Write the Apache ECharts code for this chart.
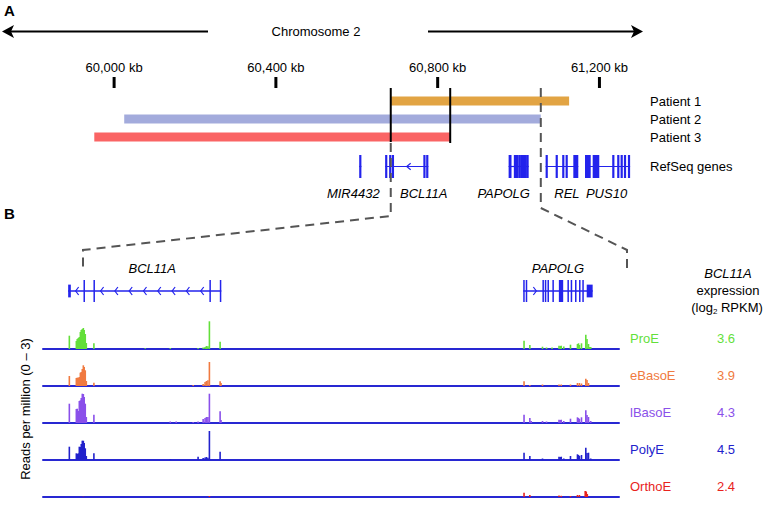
<!DOCTYPE html>
<html><head><meta charset="utf-8">
<script src="https://cdn.jsdelivr.net/npm/echarts@6/dist/echarts.min.js"></script>
<style>html,body{margin:0;padding:0;background:#fff}#c{width:770px;height:506px}</style>
</head><body><div id="c"></div>
<script>
// ---------------- data ----------------
const tickKb = [60000, 60400, 60800, 61200];
const tickLabels = ['60,000 kb', '60,400 kb', '60,800 kb', '61,200 kb'];

const patients = ['Patient 1', 'Patient 2', 'Patient 3'];
const patientStartKb = [60684, 60025, 59951];
const patientEndKb = [61125, 61055, 60831];

const breakpointKb = [60684, 60831];
const zoomWindowKb = [60684, 61055];

const geneNames = ['MIR4432', 'BCL11A', 'PAPOLG', 'REL', 'PUS10'];
const geneStrand = ['+', '-', '+', '+', '-'];
const geneExonsKb = [
  [[60608.3, 60609.1]],
  [[60671.9, 60673.7, 'u'], [60682.3, 60683.1], [60689.0, 60689.8], [60766.9, 60767.7], [60773.8, 60774.8]],
  [[60977.8, 60978.5], [60979.5, 60980.2], [60990.7, 60991.4], [60992.3, 60993.0], [60994.1, 60994.8],
   [60997.4, 60998.1], [61001.6, 61004.5], [61007.5, 61008.2], [61009.7, 61010.4], [61012.6, 61013.3],
   [61015.3, 61016.0], [61017.5, 61018.2], [61020.3, 61024.3, 'u']],
  [[61069.2, 61070.0], [61093.8, 61095.0], [61110.0, 61111.2], [61118.4, 61119.6], [61135.4, 61147.7]],
  [[61164.3, 61178.4], [61183.3, 61199.6], [61233.7, 61234.9], [61246.0, 61247.2], [61254.4, 61255.6], [61262.6, 61263.8], [61272.5, 61273.7]]
];
const detailGeneIdx = [1, 2];

const tracks = ['ProE', 'eBasoE', 'lBasoE', 'PolyE', 'OrthoE'];
const expression = ['3.6', '3.9', '4.3', '4.5', '2.4'];

// coverage: [position kb, reads per million]
const covProE = [
  [60672.7, 1.33], [60677.4, 0.8], [60678.0, 1.0], [60678.7, 1.1], [60679.4, 1.2], [60680.1, 1.7], [60680.7, 1.9],
  [60681.4, 2.0], [60682.1, 2.1], [60682.7, 1.9], [60683.4, 1.5], [60684.1, 0.6], [60689.2, 0.57], [60723.7, 0.08],
  [60740.5, 0.1], [60759.2, 0.1], [60762.6, 0.15], [60763.9, 0.2], [60764.8, 0.3], [60765.8, 0.27], [60766.8, 2.77],
  [60774.0, 0.73],
  [60978.2, 0.83], [60982.1, 0.4], [60990.6, 0.23], [60993.3, 0.15], [60997.0, 0.15], [61001.7, 0.33], [61002.5, 0.3],
  [61003.2, 0.33], [61004.9, 0.25], [61009.4, 0.43], [61014.1, 0.5], [61014.8, 0.57], [61015.4, 0.4], [61016.8, 0.57],
  [61019.7, 1.43], [61020.5, 1.0], [61021.5, 0.5], [61022.3, 0.2], [61023.0, 0.2]
];
const covEBasoE = [
  [60672.7, 1.0], [60677.4, 0.8], [60678.0, 0.83], [60678.7, 0.83], [60679.4, 0.9], [60680.1, 1.33], [60680.7, 1.4],
  [60681.4, 1.7], [60682.1, 2.07], [60682.7, 1.9], [60683.4, 1.57], [60684.1, 0.5], [60689.2, 0.33], [60755.9, 0.1],
  [60762.6, 0.2], [60763.9, 0.4], [60764.8, 0.5], [60765.8, 0.57], [60766.8, 2.4], [60774.0, 0.47], [60774.6, 0.3],
  [60978.2, 0.47], [60982.1, 0.1], [60990.6, 0.15], [61001.7, 0.15], [61003.2, 0.15], [61009.4, 0.15], [61014.1, 0.3],
  [61015.4, 0.3], [61016.8, 0.25], [61019.7, 0.73], [61020.5, 0.6], [61021.5, 0.3]
];
const covLBasoE = [
  [60672.7, 1.93], [60677.4, 1.4], [60678.0, 1.43], [60678.7, 1.2], [60679.4, 2.2], [60680.1, 2.27], [60680.7, 2.5],
  [60681.4, 2.93], [60682.1, 2.9], [60682.7, 2.6], [60683.4, 1.93], [60684.1, 0.6], [60689.2, 0.83], [60740.5, 0.15],
  [60744.5, 0.15], [60755.9, 0.1], [60759.2, 0.15], [60762.6, 0.4], [60763.9, 0.5], [60764.8, 0.6], [60765.8, 0.6],
  [60766.8, 2.93], [60774.0, 1.17], [60774.6, 0.3],
  [60978.2, 0.83], [60982.1, 0.5], [60983.0, 0.2], [60990.6, 0.2], [60993.3, 0.15], [61001.7, 0.33], [61002.5, 0.3],
  [61003.2, 0.33], [61004.9, 0.2], [61009.4, 0.43], [61014.1, 0.57], [61014.8, 0.5], [61015.4, 0.4], [61016.8, 0.57],
  [61019.7, 1.27], [61020.5, 0.8], [61021.5, 0.6], [61023.0, 0.2]
];
const covPolyE = [
  [60672.7, 1.33], [60677.4, 0.67], [60678.0, 0.6], [60678.7, 0.67], [60679.4, 1.33], [60680.1, 1.3], [60680.7, 1.6],
  [60681.4, 1.93], [60682.1, 1.93], [60682.7, 1.7], [60683.4, 1.17], [60684.1, 0.4], [60689.2, 0.67], [60740.5, 0.1],
  [60759.2, 0.33], [60762.6, 0.2], [60763.9, 0.25], [60764.8, 0.3], [60765.8, 0.23], [60766.8, 2.9], [60774.0, 0.83],
  [60978.2, 0.73], [60982.1, 0.4], [60990.6, 0.15], [61001.7, 0.33], [61002.5, 0.3], [61003.2, 0.33], [61004.9, 0.15],
  [61009.4, 0.4], [61014.1, 0.57], [61014.8, 0.5], [61015.4, 0.4], [61016.8, 0.5], [61019.7, 1.23], [61020.5, 0.7],
  [61021.5, 0.73], [61023.0, 0.15]
];
const covOrthoE = [
  [60682.1, 0.03], [60766.8, 0.1],
  [60978.2, 0.43], [60982.1, 0.2], [61001.7, 0.15], [61003.2, 0.12], [61009.4, 0.1], [61014.1, 0.2], [61015.4, 0.2],
  [61019.3, 0.6], [61020.0, 0.55], [61020.7, 0.3]
];
const coverage = [covProE, covEBasoE, covLBasoE, covPolyE, covOrthoE];

// ---------------- layout / style ----------------
const FONT = '"Liberation Sans", Arial, Helvetica, sans-serif';
const GENE = '#2323ec';
const trackColors = ['#63df3a', '#f07a40', '#8a50ea', '#2222cc', '#e8231d'];
const patientColors = ['#e2a443', '#a3abdc', '#fa6464'];
const BASE_BLUE = '#2828d2';
const baselines = [349, 386, 423, 460, 497];
const A = { left: 13, right: 120, min: 59750, max: 61325 };
const B = { left: 43, right: 151, min: 60655, max: 61042 };

const chart = echarts.init(document.getElementById('c'), null, { renderer: 'svg' });

const grids = [
  { left: A.left, right: A.right, top: 77, height: 11 },     // 0 ticks
  { left: A.left, right: A.right, top: 92, height: 54 },     // 1 patients
  { left: A.left, right: A.right, top: 155, height: 23 },    // 2 genes (overview)
  { left: A.left, right: A.right, top: 0, height: 506 },     // 3 overlay lines
  { left: B.left, right: B.right, top: 280, height: 22 }     // 4 genes (detail)
];
baselines.forEach(b => grids.push({ left: B.left, right: B.right, top: b - 30, height: 30 }));

const xAxes = [], yAxes = [];
for (let i = 0; i < 4; i++) {
  xAxes.push({ type: 'value', gridIndex: i, min: A.min, max: A.max, show: false });
}
xAxes.push({ type: 'value', gridIndex: 4, min: B.min, max: B.max, show: false });
for (let i = 0; i < 5; i++) {
  xAxes.push({ type: 'value', gridIndex: 5 + i, min: B.min, max: B.max,
    axisLine: { show: true, onZero: false, lineStyle: { color: BASE_BLUE, width: 2 } },
    axisTick: { show: false }, axisLabel: { show: false }, splitLine: { show: false } });
}
yAxes.push({ type: 'value', gridIndex: 0, min: 0, max: 1, show: false });
yAxes.push({ type: 'category', gridIndex: 1, data: patients, inverse: true, position: 'right',
  axisLine: { show: false }, axisTick: { show: false }, splitLine: { show: false },
  axisLabel: { margin: 0, color: '#000', fontSize: 13, fontFamily: FONT } });
yAxes.push({ type: 'category', gridIndex: 2, data: ['RefSeq genes'], position: 'right',
  axisLine: { show: false }, axisTick: { show: false }, splitLine: { show: false },
  axisLabel: { margin: 0, color: '#000', fontSize: 13, fontFamily: FONT } });
yAxes.push({ type: 'value', gridIndex: 3, min: 0, max: 506, inverse: true, show: false });
yAxes.push({ type: 'value', gridIndex: 4, min: 0, max: 1, show: false });
for (let i = 0; i < 5; i++) {
  yAxes.push({ type: 'value', gridIndex: 5 + i, min: 0, max: 3, show: false });
}

function geneRender(opt) {
  return function (params, api) {
    const g = api.value(2);
    const cs = params.coordSys;
    const cy = cs.y + cs.height / 2;
    const H = cs.height;
    const ex = geneExonsKb[g].map(e => {
      let a = api.coord([e[0], 0])[0], b = api.coord([e[1], 0])[0];
      if (b - a < opt.minW) { const m = (a + b) / 2; a = m - opt.minW / 2; b = m + opt.minW / 2; }
      return [a, b, e[2] === 'u'];
    }).sort((p, q) => p[0] - q[0]);
    const x0 = ex[0][0], x1 = ex[ex.length - 1][1];
    const ch = [];
    ch.push({ type: 'line', shape: { x1: x0, y1: cy, x2: x1, y2: cy }, style: { stroke: GENE, lineWidth: opt.intronW } });
    ex.forEach(([a, b, u]) => {
      const h = u ? H * opt.utr : H;
      ch.push({ type: 'rect', shape: { x: a, y: cy - h / 2, width: b - a, height: h }, style: { fill: GENE } });
    });
    const d = geneStrand[g] === '-' ? -1 : 1;
    for (let i = 0; i < ex.length - 1; i++) {
      const s = ex[i][1], e = ex[i + 1][0], len = e - s;
      const n = Math.floor(len / opt.S + 0.3);
      for (let k = 0; k < n; k++) {
        const x = s + (k + 0.5) * len / n;
        ch.push({ type: 'polyline', shape: { points: [[x - d * opt.cw / 2, cy - opt.ch], [x + d * opt.cw / 2, cy], [x - d * opt.cw / 2, cy + opt.ch]] },
          style: { stroke: GENE, lineWidth: 1.2, fill: null } });
      }
    }
    ch.push({ type: 'text', style: { x: (x0 + x1) / 2 + (opt.dx[g] || 0), y: cy + opt.labelDy, text: geneNames[g], fill: '#000',
      fontSize: 13, fontStyle: 'italic', fontFamily: FONT, align: 'center', verticalAlign: 'middle' } });
    return { type: 'group', children: ch };
  };
}

const series = [];
// tick marks + labels
series.push({ type: 'custom', xAxisIndex: 0, yAxisIndex: 0, silent: true,
  data: tickKb.map(v => [v, 0]), encode: { x: 0, y: 1 },
  renderItem(params, api) {
    const cs = params.coordSys;
    const x = api.coord([api.value(0), 0])[0];
    return { type: 'group', children: [
      { type: 'rect', shape: { x: x - 1.5, y: cs.y, width: 3, height: cs.height }, style: { fill: '#000' } },
      { type: 'text', style: { x: x, y: cs.y - 10, text: tickLabels[params.dataIndex], fill: '#000', fontSize: 13, fontFamily: FONT, align: 'center', verticalAlign: 'middle' } }
    ] };
  } });
// patient deletion bars
series.push({ type: 'custom', xAxisIndex: 1, yAxisIndex: 1, silent: true,
  data: patients.map((p, i) => [patientStartKb[i], patientEndKb[i], i]), encode: { x: [0, 1], y: 2 },
  renderItem(params, api) {
    const s = api.coord([api.value(0), api.value(2)]);
    const e = api.coord([api.value(1), api.value(2)]);
    return { type: 'rect', shape: { x: s[0], y: s[1] - 4.5, width: e[0] - s[0], height: 9 }, style: { fill: patientColors[params.dataIndex] } };
  } });
// overview genes
series.push({ type: 'custom', xAxisIndex: 2, yAxisIndex: 2, silent: true,
  data: geneNames.map((n, i) => [geneExonsKb[i][0][0], 0, i]), encode: { x: 0, y: 1 },
  renderItem: geneRender({ minW: 2.2, intronW: 1.2, S: 20, cw: 4, ch: 3.3, utr: 1, labelDy: 26.5, dx: { 0: -7, 1: 17, 2: -15, 3: 5, 4: -1 } }) });
// detail genes
series.push({ type: 'custom', xAxisIndex: 4, yAxisIndex: 4, silent: true,
  data: detailGeneIdx.map(i => [geneExonsKb[i][0][0], 0, i]), encode: { x: 0, y: 1 },
  renderItem: geneRender({ minW: 1.5, intronW: 1.5, S: 14.5, cw: 3, ch: 4, utr: 0.58, labelDy: -23, dx: { 1: 7.5, 2: 0 } }) });
// breakpoint lines
const bpBottom = [142, 143];
series.push({ type: 'custom', xAxisIndex: 3, yAxisIndex: 3, silent: true, z: 5,
  data: breakpointKb.map(v => [v, 88]), encode: { x: 0, y: 1 },
  renderItem(params, api) {
    const t = api.coord([api.value(0), 88]);
    const b = api.coord([api.value(0), bpBottom[params.dataIndex]]);
    return { type: 'line', shape: { x1: t[0], y1: t[1], x2: b[0], y2: b[1] }, style: { stroke: '#000', lineWidth: 2 } };
  } });
// zoom connector dashed lines
const connTop = [143, 88], connVert = [216, 208], connFoot = [[83, 250, 270], [627, 250, 268]];
series.push({ type: 'custom', xAxisIndex: 3, yAxisIndex: 3, silent: true, z: 6,
  data: zoomWindowKb.map(v => [v, 88]), encode: { x: 0, y: 1 },
  renderItem(params, api) {
    const i = params.dataIndex;
    const t = api.coord([api.value(0), connTop[i]]);
    const v = api.coord([api.value(0), connVert[i]]);
    const f = connFoot[i];
    return { type: 'polyline', shape: { points: [t, v, [f[0], f[1]], [f[0], f[2]]] },
      style: { stroke: '#555', lineWidth: 2, lineDash: [9, 6], fill: null } };
  } });
// coverage tracks
coverage.forEach((cov, i) => {
  series.push({ type: 'bar', xAxisIndex: 5 + i, yAxisIndex: 5 + i, data: cov, barWidth: 1.6, silent: true,
    itemStyle: { color: trackColors[i] } });
});

// text & decorations
const graphic = [];
const txt = (x, y, text, extra) => graphic.push({ type: 'text', x: x, y: y, rotation: (extra && extra.rotation) || 0,
  style: Object.assign({ x: 0, y: 0, text: text, fill: '#000', fontSize: 13, fontFamily: FONT, align: 'center', verticalAlign: 'middle' }, (extra && extra.style) || {}) });
txt(4, 10, 'A', { style: { align: 'left', fontWeight: 'bold', fontSize: 15 } });
txt(4, 213, 'B', { style: { align: 'left', fontWeight: 'bold', fontSize: 15 } });
txt(316, 31.5, 'Chromosome 2');
graphic.push({ type: 'line', shape: { x1: 10, y1: 31.5, x2: 208, y2: 31.5 }, style: { stroke: '#000', lineWidth: 2 } });
graphic.push({ type: 'line', shape: { x1: 428, y1: 31.5, x2: 636, y2: 31.5 }, style: { stroke: '#000', lineWidth: 2 } });
graphic.push({ type: 'polygon', shape: { points: [[2, 31.5], [14, 25], [11, 31.5], [14, 38]] }, style: { fill: '#000' } });
graphic.push({ type: 'polygon', shape: { points: [[643, 31.5], [631, 25], [634, 31.5], [631, 38]] }, style: { fill: '#000' } });
txt(728, 273, 'BCL11A', { style: { fontStyle: 'italic' } });
txt(728, 290, 'expression');
txt(727, 307, '(log{s|2} RPKM)', { style: { rich: { s: { fontSize: 8, fontFamily: FONT, padding: [8, 0, 0, 0] } } } });
txt(25, 409, 'Reads per million (0 – 3)', { rotation: Math.PI / 2 });
tracks.forEach((t, i) => {
  txt(630, baselines[i] - 11, t, { style: { align: 'left', fill: trackColors[i] } });
  txt(726, baselines[i] - 11, expression[i], { style: { fill: trackColors[i] } });
});

chart.setOption({
  animation: false,
  backgroundColor: '#fff',
  grid: grids, xAxis: xAxes, yAxis: yAxes, series: series, graphic: graphic
});
</script></body></html>
